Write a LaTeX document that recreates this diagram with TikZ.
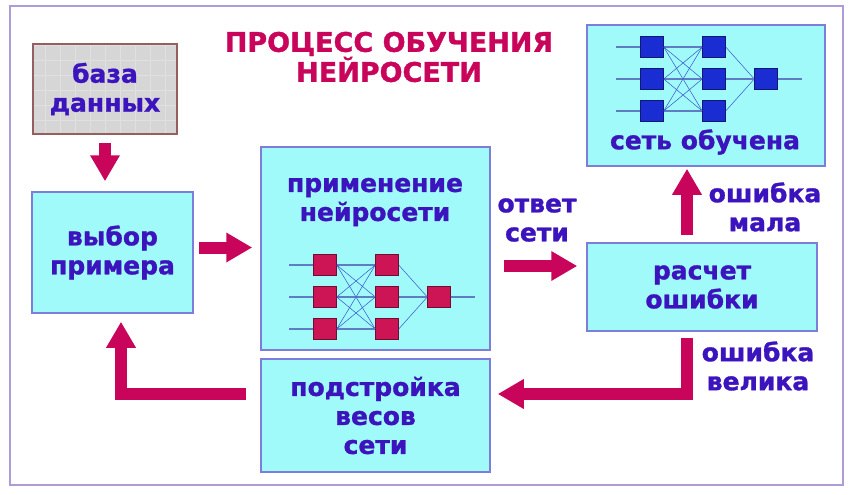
\documentclass[tikz,border=0pt]{standalone}
\usepackage{fontspec}
\setmainfont{DejaVu Sans}[BoldFeatures={FakeBold=1.2}]
\usetikzlibrary{arrows.meta,calc}

\definecolor{boxfill}{RGB}{160,250,250}
\definecolor{boxline}{RGB}{125,125,220}
\definecolor{dbfill}{RGB}{214,214,214}
\definecolor{dbline}{RGB}{150,95,95}
\definecolor{txtblue}{RGB}{60,20,190}
\definecolor{crimson}{RGB}{200,5,90}
\definecolor{framecol}{RGB}{175,155,215}
\definecolor{axoncol}{RGB}{95,125,195}
\definecolor{wirecol}{RGB}{60,80,205}
\definecolor{redcell}{RGB}{205,20,85}
\definecolor{bluecell}{RGB}{25,45,210}

\tikzset{
  stage/.style={draw=boxline, line width=1.5pt, fill=boxfill, inner sep=0pt},
  lbl/.style={font=\bfseries\fontsize{25}{29}\selectfont, text=txtblue, align=center},
  bigarrow/.style={draw=crimson, line width=12pt, line join=miter,
    -{Triangle[length=26pt,width=28pt]}},
  neuron/.style={draw, minimum width=23pt, minimum height=21pt, inner sep=0pt},
  axon/.style={draw=axoncol, line width=1.2pt},
  wire/.style={draw=wirecol, line width=0.5pt}
}

% #1 prefix, #2/#3 centre of the first cell, #4 cell colour
\newcommand{\neuralnet}[4]{%
  \foreach \r in {1,2,3}{
    \node[neuron, fill=#4, draw=#4!55!black] (#1a\r) at ({#2},{#3+32*\r-32}) {};
    \node[neuron, fill=#4, draw=#4!55!black] (#1b\r) at ({#2+62},{#3+32*\r-32}) {};
  }
  \node[neuron, fill=#4, draw=#4!55!black] (#1c) at ({#2+114},{#3+32}) {};
  \foreach \i in {1,2,3}{
    \draw[axon] (#1a\i.west) -- ++(-24,0);
    \draw[axon] (#1a\i.east) -- (#1b\i.west);
    \foreach \j in {1,2,3}{
      \ifnum\i=\j\else\draw[wire] (#1a\i.east) -- (#1b\j.west);\fi
    }
  }
  \draw[wire] (#1b1.east) -- (#1c.west);
  \draw[wire] (#1b3.east) -- (#1c.west);
  \draw[axon] (#1b2.east) -- (#1c.west);
  \draw[axon] (#1c.east) -- ++(24,0);
}

\begin{document}
\begin{tikzpicture}[x=1pt, y=-1pt]
  \useasboundingbox (0,0) rectangle (852,495);
  \fill[white] (0,0) rectangle (852,495);
  \draw[framecol, line width=1.5pt] (10,6) rectangle (843,485);

  % title
  \node[font=\bfseries\fontsize{27}{30}\selectfont, text=crimson, align=center]
    (title) at (389,57) {ПРОЦЕСС ОБУЧЕНИЯ\\НЕЙРОСЕТИ};

  % boxes
  \node[stage, fill=dbfill, draw=dbline, minimum width=144pt, minimum height=90pt]
    (db) at (105,89) {};
  \draw[dbfill!75!white, line width=0.4pt, step=15pt] (34,45) grid (176,133);
  \node[lbl] (dbtext) at (db) {база\\данных};

  \node[stage, minimum width=161pt, minimum height=121pt]
    (choose) at (112.5,252.5) {};
  \node[lbl] (choosetext) at (choose) {выбор\\примера};

  \node[stage, minimum width=229pt, minimum height=203pt]
    (apply) at (375.5,248.5) {};
  \node[lbl] (applytext) at (375,202) {применение\\нейросети};
  \neuralnet{r}{325}{265}{redcell}

  \node[stage, minimum width=229pt, minimum height=113pt]
    (adjust) at (375.5,415.5) {};
  \node[lbl] (adjusttext) at (adjust) {подстройка\\весов\\сети};

  \node[stage, minimum width=230pt, minimum height=88pt]
    (calc) at (702,287) {};
  \node[lbl] (calctext) at (calc) {расчет\\ошибки};

  \node[stage, minimum width=238pt, minimum height=141pt]
    (done) at (706,95.5) {};
  \node[lbl] (donetext) at (705,142) {сеть обучена};
  \neuralnet{b}{652}{47}{bluecell}

  % free labels
  \node[lbl] (answer) at (537,220) {ответ\\сети};
  \node[lbl] (small) at (765,207) {ошибка\\мала};
  \node[lbl] (large) at (758,366) {ошибка\\велика};

  % arrows
  \draw[bigarrow, shorten <=8pt, shorten >=10pt] (db.south) -- (db.south |- choose.north);
  \draw[bigarrow, shorten <=5pt, shorten >=8pt] (choose.east |- 0,247.5) -- (apply.west |- 0,247.5);
  \draw[bigarrow, shorten <=13pt, shorten >=9pt] (apply.east |- 0,266) -- (calc.west |- 0,266);
  \draw[bigarrow, shorten <=7pt, shorten >=2pt] (687,0 |- calc.north) -- (687,0 |- done.south);
  \draw[bigarrow, shorten <=6pt, shorten >=7pt] (687,0 |- calc.south) -- (687,394) -- (adjust.east |- 0,394);
  \draw[bigarrow, shorten <=14pt, shorten >=8pt] (adjust.west |- 0,394) -- (121,394) -- (121,0 |- choose.south);
\end{tikzpicture}
\end{document}
